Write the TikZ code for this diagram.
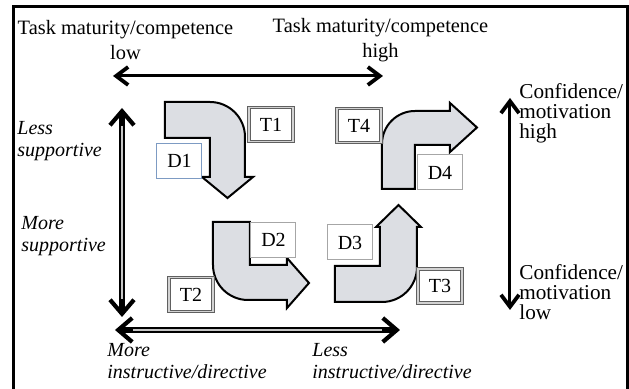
\documentclass[tikz,border=0pt]{standalone}
\usepackage{fontspec}
\setmainfont{Liberation Serif}
\usetikzlibrary{arrows.meta, positioning}
\definecolor{bendfill}{RGB}{220,222,227}
\definecolor{dblue}{RGB}{125,155,195}
\tikzstyle{tbox} = [rectangle, draw=gray!75!black, double=gray!35, double distance=0.6pt, line width=0.5pt, fill=white, minimum width=22pt, minimum height=17pt, inner sep=0pt, font=\fontsize{10}{11}\selectfont]
\tikzstyle{dbox} = [rectangle, draw=gray!70, line width=0.5pt, fill=white, minimum width=22.5pt, minimum height=17.5pt, inner sep=0pt, font=\fontsize{10}{11}\selectfont]
\tikzstyle{bentarrow} = [draw=black, line width=1pt, fill=bendfill]
\tikzstyle{axistext} = [inner sep=0pt, align=left, anchor=west, font=\fontsize{10}{11}\selectfont]
\tikzstyle{axisline} = [line width=1.5pt, {Straight Barb[length=6pt,width=9pt,line width=1.9pt]}-{Straight Barb[length=6pt,width=9pt,line width=1.9pt]}]
\tikzstyle{axisdouble} = [line width=2.6pt, {Straight Barb[length=7pt,width=12pt,line width=2.1pt]}-{Straight Barb[length=7pt,width=12pt,line width=2.1pt]}]
\tikzstyle{stripe} = [line width=0.7pt, gray!45]

\begin{document}
\begin{tikzpicture}[x=0.5pt, y=-0.5pt]
\useasboundingbox (0,0) rectangle (629,389);
% frame
\draw[line width=1.5pt] (13.5,395) -- (13.5,6.7) -- (627.8,6.7) -- (627.8,395);

% top labels
\node[inner sep=0pt, align=center, font=\fontsize{10.2}{12.5}\selectfont] (tmlow) at (125.5,40.5) {Task maturity/competence\\low};
\node[inner sep=0pt, align=center, font=\fontsize{10.2}{12.5}\selectfont] (tmhigh) at (380.5,40.5) {Task maturity/competence\\high};

% side labels
\node[axistext, font=\itshape\fontsize{10}{11}\selectfont] (lesssup) at (17,141) {Less\\supportive};
\node[axistext, font=\itshape\fontsize{10}{11}\selectfont] (moresup) at (21,236.5) {More\\supportive};
\node[axistext, font=\fontsize{10.6}{10}\selectfont] (confhigh) at (519,113) {Confidence/\\motivation\\high};
\node[axistext, font=\fontsize{10.6}{10}\selectfont] (conflow) at (519,292) {Confidence/\\motivation\\low};
\node[axistext, font=\itshape\fontsize{10}{11}\selectfont] (moreinst) at (107,361) {More\\instructive/directive};
\node[axistext, font=\itshape\fontsize{10}{11}\selectfont] (lessinst) at (312,361) {Less\\instructive/directive};

% axis ends
\coordinate (topl) at (113,76);
\coordinate (topr) at (383,76);
\coordinate (botl) at (115,330);
\coordinate (botr) at (400,330);
\coordinate (leftt) at (122,108);
\coordinate (leftb) at (122,317);
\coordinate (rightt) at (510,98);
\coordinate (rightb) at (510,310);

% arrows
\draw[axisline] (topl) -- (topr);
\draw[axisline] (rightt) -- (rightb);
\draw[axisdouble] (leftt) -- (leftb);
\draw[stripe] ([yshift=-9pt]leftt) -- ([yshift=9pt]leftb);
\draw[axisdouble] (botl) -- (botr);
\draw[stripe] ([xshift=9pt]botl) -- ([xshift=-9pt]botr);

% bent arrows
\draw[bentarrow] (165,102) -- (210,102) arc[start angle=-90, end angle=0, radius=35] -- (245,177) -- (253,177) -- (227.5,198) -- (202,177) -- (210,177) -- (210,138) -- (165,138) -- cycle;
\draw[bentarrow] (213,222) -- (213,265) arc[start angle=180, end angle=90, radius=35] -- (287,300) -- (287,308) -- (309,283) -- (287,258) -- (287,265) -- (250,265) -- (250,222) -- cycle;
\draw[bentarrow] (335,302) -- (335,266) -- (380,266) -- (380,227) -- (376,227) -- (398.5,205) -- (421,227) -- (417,227) -- (417,267) arc[start angle=0, end angle=90, radius=35] -- cycle;
\draw[bentarrow] (382,189) -- (382,144) arc[start angle=180, end angle=270, radius=33] -- (450,111) -- (450,103) -- (477,127.5) -- (450,152) -- (450,145) -- (415,145) -- (415,189) -- cycle;

% task boxes
\node[tbox] (t1) at (271,124.5) {T1};
\node[tbox] (t2) at (191,294.5) {T2};
\node[tbox] (t3) at (440,286) {T3};
\node[tbox] (t4) at (359,125.5) {T4};
% development boxes
\node[dbox, draw=dblue] (d1) at (179.5,161) {D1};
\node[dbox] (d2) at (273.5,240) {D2};
\node[dbox] (d3) at (350,242.5) {D3};
\node[dbox] (d4) at (440,172.5) {D4};
\end{tikzpicture}
\end{document}
